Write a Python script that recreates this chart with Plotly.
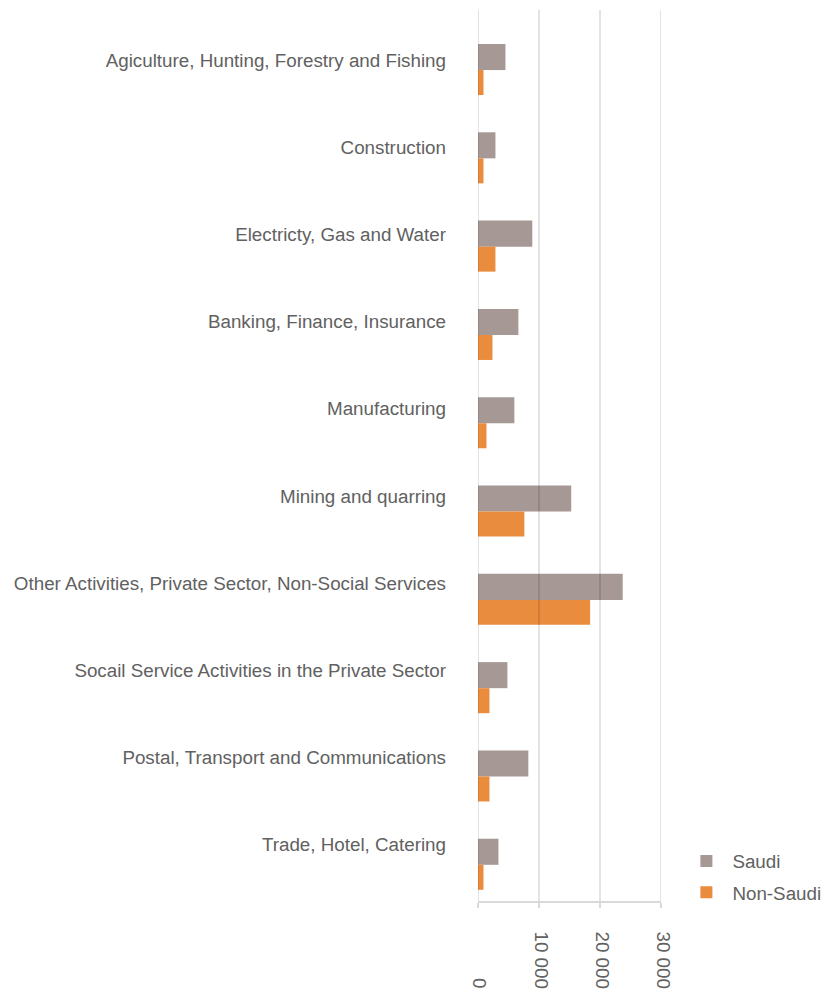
import plotly.graph_objects as go

categories = [
    "Agiculture, Hunting, Forestry and Fishing",
    "Construction",
    "Electricty, Gas and Water",
    "Banking, Finance, Insurance",
    "Manufacturing",
    "Mining and quarring",
    "Other Activities, Private Sector, Non-Social Services",
    "Socail Service Activities in the Private Sector",
    "Postal, Transport and Communications",
    "Trade, Hotel, Catering",
]
saudi = [4500, 2860, 8900, 6620, 5960, 15280, 23720, 4820, 8250, 3350]
non_saudi = [900, 900, 2860, 2370, 1390, 7600, 18380, 1880, 1880, 900]
x_ticks = [0, 10000, 20000, 30000]
x_tick_labels = ["0", "10 000", "20 000", "30 000"]

FONT = "Liberation Sans, Arial, sans-serif"
TXT = "#616161"
FS = 18.8

positions = list(range(len(categories)))
label_pos = [i * 0.9875 - 0.024 for i in positions]

fig = go.Figure()
fig.add_trace(go.Bar(
    y=positions, x=saudi, orientation="h", name="Saudi",
    marker=dict(color="#a69894", line=dict(width=0)),
    width=0.295, offset=-0.205, legendgroup="s",
))
fig.add_trace(go.Bar(
    y=positions, x=non_saudi, orientation="h", name="Non-Saudi",
    marker=dict(color="#ea8c3e", line=dict(width=0)),
    width=0.283, offset=0.09, legendgroup="n",
))

shapes = []
for v in x_ticks:
    shapes.append(dict(
        type="line", xref="x", yref="paper", x0=v, x1=v, y0=0, y1=1,
        line=dict(color="rgba(0,0,0,0.15)", width=1.5), layer="above",
    ))

annotations = []
for v, t in zip(x_ticks, x_tick_labels):
    annotations.append(dict(
        x=v, xref="x", y=-0.0999, yref="paper", yanchor="bottom",
        xanchor="center", xshift=2, text=t, textangle=90, showarrow=False,
        font=dict(family=FONT, size=FS, color=TXT),
    ))

fig.update_layout(
    width=824, height=992,
    margin=dict(l=477.5, r=163, t=10, b=91, autoexpand=False),
    paper_bgcolor="white", plot_bgcolor="white",
    barmode="overlay",
    font=dict(family=FONT, size=FS, color=TXT),
    showlegend=True,
    legend=dict(
        x=1.106, xanchor="left", y=0.066, yanchor="top",
        itemwidth=42, tracegroupgap=4,
        font=dict(family=FONT, size=FS, color=TXT),
        bgcolor="rgba(0,0,0,0)",
    ),
    shapes=shapes,
    annotations=annotations,
)
fig.update_xaxes(
    range=[0, 30000], showgrid=False, zeroline=False,
    showline=True, linecolor="#d9d9d9", linewidth=1.5,
    ticks="outside", tickvals=x_ticks, ticklen=5, tickcolor="#d9d9d9",
    tickwidth=1.5, showticklabels=False, fixedrange=True,
)
fig.update_yaxes(
    range=[9.5, -0.59], showgrid=False, zeroline=False, showline=False,
    tickvals=label_pos, ticktext=categories, ticks="",
    ticklabelstandoff=31, fixedrange=True,
    tickfont=dict(family=FONT, size=FS, color=TXT),
)

fig.write_html(
    "out.html",
    config={"displayModeBar": False},
    post_script="document.body.style.margin='0';document.body.style.overflow='hidden';",
)
